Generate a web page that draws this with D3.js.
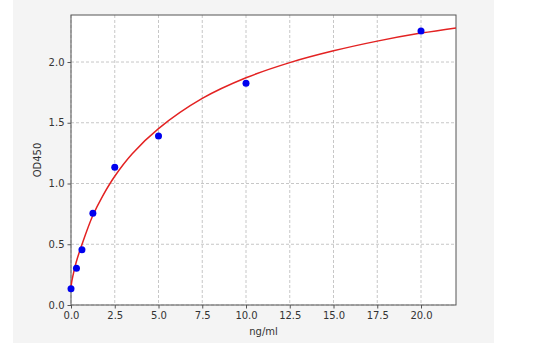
<!DOCTYPE html>
<html>
<head>
<meta charset="utf-8">
<script src="https://cdn.jsdelivr.net/npm/d3@7"></script>
<style>
  html, body { margin: 0; padding: 0; background: #ffffff; }
  svg { display: block; }
  text { font-family: "DejaVu Sans", sans-serif; }
</style>
</head>
<body>
<svg id="chart" width="538" height="343"></svg>
<script>
// standard points (concentration, OD)
const conc = [0, 0.3125, 0.625, 1.25, 2.5, 5, 10, 20];
const od = [0.134, 0.302, 0.455, 0.755, 1.133, 1.391, 1.825, 2.255];

// fitted curve
const fitX = [0, 0.05, 0.1, 0.3, 0.63, 1.24, 1.8, 2.5, 3.5, 5, 7.5, 10, 12.5, 15, 17.5, 20, 22];
const fitY = [0.15, 0.198, 0.234, 0.354, 0.50, 0.735, 0.895, 1.06, 1.245, 1.452, 1.70, 1.870, 1.995, 2.092, 2.172, 2.238, 2.281];

const xTicks = [0, 2.5, 5, 7.5, 10, 12.5, 15, 17.5, 20];
const yTicks = [0, 0.5, 1.0, 1.5, 2.0];

const svg = d3.select('#chart');

const colors = {
    figure: "#f4f4f4",
    spine: "#555555",
    grid: "#b9b9b9",
    text: "#333333",
    line: "#e32222",
    dot: "#0000ee"
};

// figure background
svg.append('rect')
    .attr('x', 13).attr('y', 0)
    .attr('width', 481).attr('height', 343)
    .attr('fill', colors.figure);

const margin = { top: 15, left: 71 },
    width = 385,
    height = 290;

const g = svg.append('g').attr('transform', `translate(${margin.left},${margin.top})`);

const x = d3.scaleLinear().domain([0, 22]).range([0, width]);
const y = d3.scaleLinear().domain([0, 2.387]).range([height, 0]);

g.append('rect')
    .attr('width', width).attr('height', height)
    .attr('fill', '#ffffff');

// grid
g.append('g')
    .selectAll('line')
    .data(xTicks)
    .enter().append('line')
    .attr('x1', d => x(d)).attr('x2', d => x(d))
    .attr('y1', 0).attr('y2', height)
    .attr('stroke', colors.grid)
    .attr('stroke-width', 0.8)
    .attr('stroke-dasharray', '3,2');

g.append('g')
    .selectAll('line')
    .data(yTicks)
    .enter().append('line')
    .attr('x1', 0).attr('x2', width)
    .attr('y1', d => y(d)).attr('y2', d => y(d))
    .attr('stroke', colors.grid)
    .attr('stroke-width', 0.8)
    .attr('stroke-dasharray', '3,2');

// axes
const xAxis = g.append('g')
    .attr('transform', `translate(0,${height})`)
    .call(d3.axisBottom(x).tickValues(xTicks).tickFormat(d3.format('.1f')).tickSize(3.5).tickPadding(3));

const yAxis = g.append('g')
    .call(d3.axisLeft(y).tickValues(yTicks).tickFormat(d3.format('.1f')).tickSize(3.5).tickPadding(3));

[xAxis, yAxis].forEach(a => {
    a.select('.domain').remove();
    a.selectAll('line').attr('stroke', colors.spine);
    a.selectAll('text')
        .style('font-size', '10px')
        .style('font-family', '"DejaVu Sans", sans-serif')
        .attr('fill', colors.text);
});

// spines
g.append('rect')
    .attr('width', width).attr('height', height)
    .attr('fill', 'none')
    .attr('stroke', colors.spine)
    .attr('stroke-width', 1);

// axis labels
g.append('text')
    .attr('x', width / 2)
    .attr('y', height + 30)
    .attr('text-anchor', 'middle')
    .style('font-size', '10px')
    .attr('fill', colors.text)
    .text('ng/ml');

g.append('text')
    .attr('transform', 'rotate(-90)')
    .attr('x', -height / 2)
    .attr('y', -30)
    .attr('text-anchor', 'middle')
    .style('font-size', '10px')
    .attr('fill', colors.text)
    .text('OD450');

// clip for the data
svg.append('defs').append('clipPath').attr('id', 'plot-clip')
    .append('rect').attr('x', -5).attr('y', -5).attr('width', width + 5).attr('height', height + 10);

const plot = g.append('g').attr('clip-path', 'url(#plot-clip)');

const fitData = fitX.map((d, i) => ({ x: d, y: fitY[i] }));
const line = d3.line().x(d => x(d.x)).y(d => y(d.y)).curve(d3.curveCatmullRom);

plot.append('path')
    .datum(fitData)
    .attr('fill', 'none')
    .attr('stroke', colors.line)
    .attr('stroke-width', 1.5)
    .attr('d', line);

plot.selectAll('.dot')
    .data(conc.map((d, i) => ({ x: d, y: od[i] })))
    .enter().append('circle')
    .attr('class', 'dot')
    .attr('cx', d => x(d.x))
    .attr('cy', d => y(d.y))
    .attr('r', 3.5)
    .attr('fill', colors.dot);
</script>
</body>
</html>
